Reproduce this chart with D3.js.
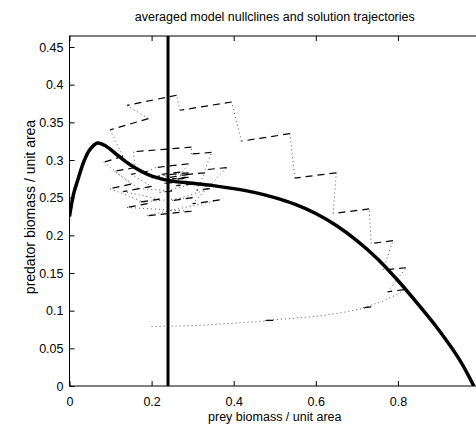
<!DOCTYPE html>
<meta charset="utf-8">
<style>
body { margin: 0; background: #fff; }
text { font-family: "Liberation Sans", Arial, Helvetica, sans-serif; font-size: 12.5px; fill: #000; }
.axis path, .axis line { stroke: #000; stroke-width: 1; }
</style>
<svg width="476" height="437"></svg>
<script src="https://d3js.org/d3.v7.min.js"></script>
<script>

// averaged model: prey / predator nullclines plus a trajectory that
// alternates between a summer phase (dotted) and a winter phase (dashed)

var preyTicks = [0, 0.2, 0.4, 0.6, 0.8];
var predTicks = [0, 0.05, 0.1, 0.15, 0.2, 0.25, 0.3, 0.35, 0.4, 0.45];

// predator nullcline (humped curve)
var nullPrey = [0, 0.01, 0.02, 0.035, 0.05, 0.068, 0.09, 0.12, 0.15, 0.19, 0.24, 0.3, 0.35, 0.4, 0.45, 0.5, 0.55, 0.6, 0.65, 0.7, 0.75, 0.8, 0.85, 0.9, 0.95, 0.985];
var nullPred = [0.225, 0.255, 0.273, 0.298, 0.314, 0.3225, 0.318, 0.305, 0.293, 0.281, 0.273, 0.269, 0.266, 0.262, 0.257, 0.25, 0.241, 0.229, 0.213, 0.193, 0.169, 0.14, 0.108, 0.074, 0.035, 0];

// prey nullcline (vertical)
var preyStar = 0.24;

// trajectory points; trajPhase[i] = phase of the step that ends at point i
// ("s" summer, dotted / "w" winter, dashed)
var trajPrey = [0.200, 0.30, 0.391, 0.496, 0.476, 0.593, 0.66, 0.735, 0.715, 0.76, 0.80, 0.815, 0.775,
  0.82, 0.764, 0.788, 0.735, 0.73, 0.642, 0.65, 0.549, 0.537, 0.419, 0.395, 0.269, 0.261, 0.140,
  0.192, 0.099, 0.13, 0.083, 0.15, 0.099, 0.19, 0.14, 0.297, 0.188, 0.366, 0.30, 0.383, 0.33,
  0.346, 0.297, 0.297, 0.156, 0.16, 0.11, 0.17, 0.13, 0.22, 0.17, 0.30, 0.25, 0.342, 0.31,
  0.33, 0.27, 0.29, 0.21, 0.19, 0.15, 0.20, 0.17, 0.25, 0.22, 0.30, 0.26, 0.29, 0.23,
  0.22, 0.20, 0.25, 0.23, 0.29, 0.25, 0.27, 0.225, 0.26, 0.235, 0.28, 0.25, 0.29, 0.245];
var trajPred = [0.079, 0.080, 0.083, 0.087, 0.087, 0.092, 0.097, 0.105, 0.104, 0.112, 0.122, 0.128, 0.125,
  0.157, 0.154, 0.193, 0.189, 0.235, 0.229, 0.283, 0.276, 0.335, 0.325, 0.377, 0.366, 0.386, 0.3725,
  0.355, 0.340, 0.305, 0.297, 0.268, 0.262, 0.242, 0.237, 0.232, 0.226, 0.247, 0.242, 0.29, 0.287,
  0.31, 0.308, 0.317, 0.311, 0.29, 0.285, 0.262, 0.258, 0.248, 0.244, 0.25, 0.246, 0.262, 0.26,
  0.283, 0.28, 0.295, 0.29, 0.285, 0.281, 0.265, 0.262, 0.259, 0.257, 0.268, 0.266, 0.283, 0.28,
  0.279, 0.276, 0.27, 0.269, 0.277, 0.275, 0.284, 0.281, 0.271, 0.27, 0.276, 0.274, 0.281, 0.277];
var trajPhase = ["s", "s", "s", "s", "w", "s", "s", "s", "w", "s", "s", "s", "w",
  "s", "w", "s", "w", "s", "w", "s", "w", "s", "w", "s", "w", "s", "w",
  "s", "w", "s", "w", "s", "w", "s", "w", "s", "w", "s", "w", "s", "w",
  "s", "w", "s", "w", "s", "w", "s", "w", "s", "w", "s", "w", "s", "w",
  "s", "w", "s", "w", "s", "w", "s", "w", "s", "w", "s", "w", "s", "w",
  "s", "w", "s", "w", "s", "w", "s", "w", "s", "w", "s", "w", "s", "w"];

var svg = d3.select("svg");
var padL = 69.5, padR = 480, padT = 36, padB = 386;

var x = d3.scaleLinear().domain([0, 1]).range([padL, padR]);
var y = d3.scaleLinear().domain([0, 0.45]).range([padB, 47]);

svg.append("defs").append("clipPath").attr("id", "plotclip")
  .append("rect").attr("x", padL).attr("y", padT).attr("width", padR - padL).attr("height", padB - padT);

var plot = svg.append("g").attr("clip-path", "url(#plotclip)");

// trajectory, split into runs of one phase
var runs = [];
for (var i = 1; i < trajPrey.length; i++) {
  var p = trajPhase[i];
  if (!runs.length || runs[runs.length - 1].phase != p) {
    runs.push({phase: p, pts: [[trajPrey[i - 1], trajPred[i - 1]]]});
  }
  runs[runs.length - 1].pts.push([trajPrey[i], trajPred[i]]);
}
var line = d3.line().x(function(d) { return x(d[0]); }).y(function(d) { return y(d[1]); });

plot.selectAll("path.traj")
  .data(runs)
  .enter().append("path")
  .attr("class", "traj")
  .attr("d", function(d) { return line(d.pts); })
  .attr("fill", "none")
  .attr("stroke", function(d) { return d.phase == "s" ? "#555" : "#000"; })
  .attr("stroke-width", function(d) { return d.phase == "s" ? 1 : 1.2; })
  .attr("stroke-dasharray", function(d) { return d.phase == "s" ? "1,3" : "7,5"; });

// nullclines
plot.append("path")
  .attr("d", d3.line().curve(d3.curveCatmullRom.alpha(0.5))
    .x(function(d, i) { return x(nullPrey[i]); })
    .y(function(d) { return y(d); })(nullPred))
  .attr("fill", "none").attr("stroke", "#000").attr("stroke-width", 3.5);

plot.append("line")
  .attr("x1", x(preyStar)).attr("x2", x(preyStar))
  .attr("y1", padT).attr("y2", padB)
  .attr("stroke", "#000").attr("stroke-width", 3);

// axes, matlab style: box with ticks pointing inwards
svg.append("g").attr("class", "axis")
  .attr("transform", "translate(0," + padB + ")")
  .call(d3.axisBottom(x).tickValues(preyTicks).tickSize(-5).tickSizeOuter(0).tickPadding(11)
    .tickFormat(d3.format("")))
  .call(function(g) { g.select(".domain").remove(); g.selectAll("text").attr("font-size", null); });

svg.append("g").attr("class", "axis")
  .attr("transform", "translate(" + padL + ",0)")
  .call(d3.axisLeft(y).tickValues(predTicks).tickSize(-5).tickSizeOuter(0).tickPadding(6)
    .tickFormat(d3.format("")))
  .call(function(g) { g.select(".domain").remove(); g.selectAll("text").attr("font-size", null); });

svg.append("g").attr("class", "axis")
  .attr("transform", "translate(0," + padT + ")")
  .call(d3.axisTop(x).tickValues(preyTicks).tickSize(-5).tickSizeOuter(0).tickFormat(""))
  .call(function(g) { g.select(".domain").remove(); });

svg.append("rect")
  .attr("x", padL).attr("y", padT).attr("width", padR - padL).attr("height", padB - padT)
  .attr("fill", "none").attr("stroke", "#000").attr("stroke-width", 1);

svg.append("text")
  .attr("x", (padL + padR) / 2).attr("y", 21)
  .attr("text-anchor", "middle")
  .text("averaged model nullclines and solution trajectories");

svg.append("text")
  .attr("x", (padL + padR) / 2).attr("y", 421)
  .attr("text-anchor", "middle")
  .text("prey biomass / unit area");

svg.append("text")
  .attr("transform", "translate(35,207) rotate(-90)")
  .attr("text-anchor", "middle")
  .style("font-size", "14px")
  .text("predator biomass / unit area");

</script>
